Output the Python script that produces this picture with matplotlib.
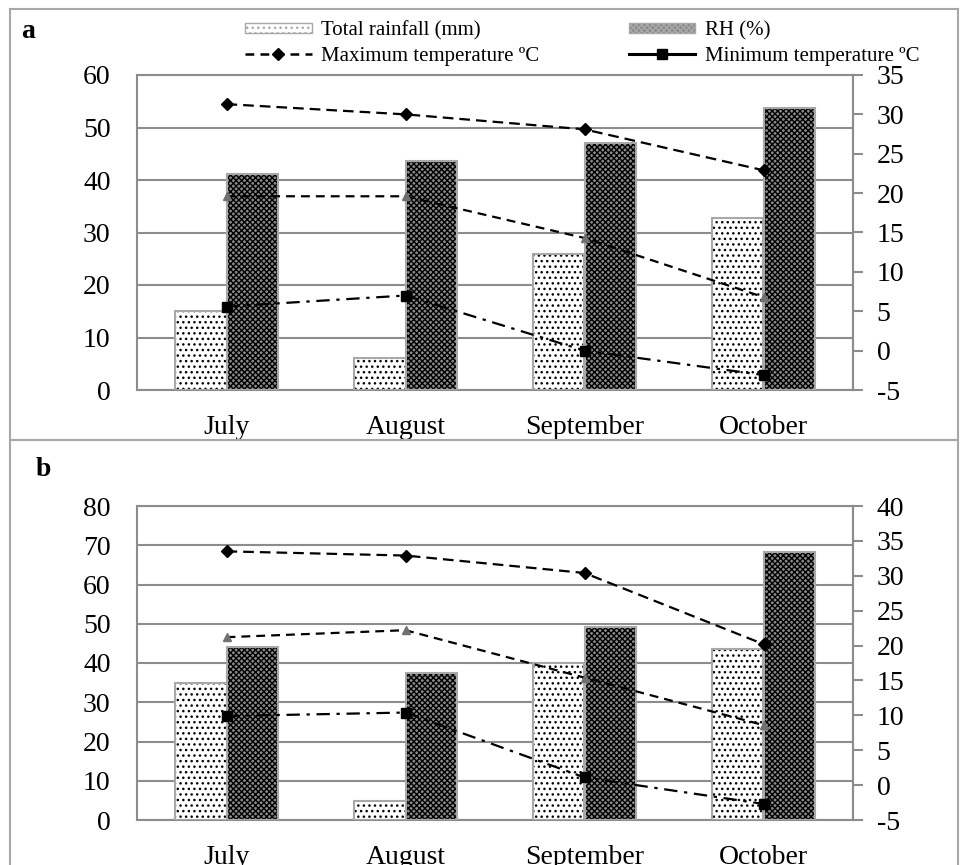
import matplotlib
matplotlib.use("Agg")
import matplotlib.pyplot as plt
from matplotlib.lines import Line2D
from matplotlib.patches import Patch
import numpy as np

plt.rcParams['font.family'] = ['Liberation Serif', 'DejaVu Serif']
plt.rcParams['hatch.linewidth'] = 1.0
plt.rcParams['axes.unicode_minus'] = False

# values (a = first site, b = second site)
months = ["July", "August", "September", "October"]

rain_a = [15.1, 6.1, 26.0, 32.7]
rh_a = [41.1, 43.7, 47.0, 53.7]
tmax_a = [31.3, 30.0, 28.1, 22.9]
tmid_a = [19.6, 19.6, 14.3, 6.8]
tmin_a = [5.6, 7.0, 0.0, -3.1]

rain_b = [34.8, 4.8, 40.1, 43.5]
rh_b = [44.0, 37.4, 49.2, 68.4]
tmax_b = [33.5, 32.9, 30.4, 20.2]
tmid_b = [21.2, 22.2, 15.4, 8.6]
tmin_b = [9.9, 10.4, 1.1, -2.7]

GREY = "#8c8c8c"
EDGE = "#a8a8a8"
RH_FACE = "#8a8a8a"
W, H = 960, 865


def panel(rect, rain, rh, tmax, tmid, tmin, left_max, right_max):
    ax = fig.add_axes(rect)
    x = np.arange(len(months))
    w = 0.285
    # rainfall: white with black dots, grey outline
    ax.bar(x - w / 2, rain, w, facecolor="white", edgecolor="black",
           hatch="...", linewidth=0, zorder=2)
    ax.bar(x - w / 2, rain, w, facecolor="none", edgecolor=EDGE,
           linewidth=1.5, zorder=3)
    # RH: dense checker look
    ax.bar(x + w / 2, rh, w, facecolor=RH_FACE, edgecolor="black",
           hatch="xxxxxx", linewidth=0, zorder=2)
    ax.bar(x + w / 2, rh, w, facecolor="none", edgecolor=EDGE,
           linewidth=1.5, zorder=3)

    ax.set_xlim(-0.5, len(months) - 0.5)
    ax.set_ylim(0, left_max)
    ax.set_yticks(range(0, left_max + 1, 10))
    ax.set_xticks(x)
    ax.set_xticklabels(months)
    ax.yaxis.grid(True, color=GREY, linewidth=1.5)
    ax.set_axisbelow(True)
    ax.tick_params(axis="y", length=0, pad=19, labelsize=20)
    ax.tick_params(axis="x", length=0, pad=18, labelsize=20)
    for s in ax.spines.values():
        s.set_color(GREY)
        s.set_linewidth(1.5)

    ax2 = ax.twinx()
    ax2.set_ylim(-5, right_max)
    ax2.set_yticks(range(-5, right_max + 1, 5))
    ax2.tick_params(axis="y", length=7, width=1.5, color=GREY, pad=10,
                    labelsize=20)
    for s in ax2.spines.values():
        s.set_visible(False)
    ax2.spines["right"].set_visible(True)
    ax2.spines["right"].set_color(GREY)
    ax2.spines["right"].set_linewidth(1.5)

    ax2.plot(x, tmax, color="black", lw=1.6, ls=(0, (4.8, 2.7)),
             marker="D", ms=6, mfc="black", mec="black")
    ax2.plot(x, tmid, color="black", lw=1.6, ls=(0, (4.0, 2.7)),
             marker="^", ms=6, mfc="#707070", mec="#707070")
    ax2.plot(x, tmin, color="black", lw=1.6, ls=(0, (6, 3, 1.5, 3)),
             marker="s", ms=7, mfc="black", mec="black")
    return ax


fig = plt.figure(figsize=(W / 100, H / 100), dpi=100)

panel([137 / W, 1 - 390 / H, 716 / W, 315 / H],
      rain_a, rh_a, tmax_a, tmid_a, tmin_a, 60, 35)
panel([137 / W, 1 - 820 / H, 716 / W, 314 / H],
      rain_b, rh_b, tmax_b, tmid_b, tmin_b, 80, 40)

# frame around the panels
for xs, ys in [([10, 10], [9, 865]), ([10, 958], [9, 9]),
               ([958, 958], [9, 865]), ([10, 958], [440, 440])]:
    fig.add_artist(Line2D([v / W for v in xs], [1 - v / H for v in ys],
                          transform=fig.transFigure, color=EDGE, lw=1.5))

fig.text(28 / W, 1 - 32 / H, "a", fontsize=20, fontweight="bold",
         ha="center", va="center")
fig.text(43 / W, 1 - 470 / H, "b", fontsize=20, fontweight="bold",
         ha="center", va="center")

handles = [
    Patch(facecolor="white", edgecolor=EDGE, hatch="...",
          label="Total rainfall (mm)"),
    Line2D([], [], color="black", lw=1.8, ls=(0, (3.5, 2.5)), marker="D",
           ms=6, label="Maximum temperature ºC"),
    Patch(facecolor=RH_FACE, edgecolor=EDGE, hatch="xxxxxx",
          label="RH (%)"),
    Line2D([], [], color="black", lw=2.2, marker="s", ms=7,
           label="Minimum temperature ºC"),
]
fig.legend(handles=handles, ncol=2, loc="upper left",
           bbox_to_anchor=(245 / W, 1 - 21 / H), frameon=False,
           fontsize=15, handlelength=3.2, handleheight=0.35,
           handletextpad=0.45, labelspacing=0.3, columnspacing=4.3,
           borderpad=0, borderaxespad=0)

fig.savefig("out.png", dpi=100)
